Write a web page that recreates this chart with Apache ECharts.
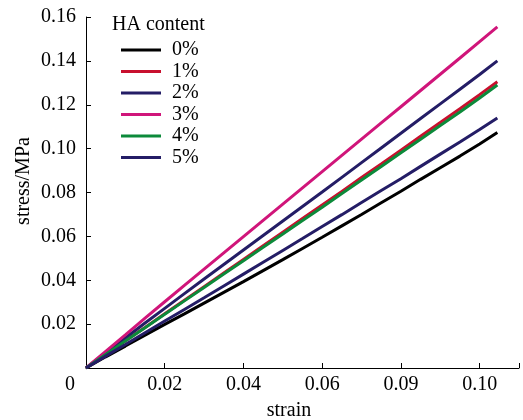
<!DOCTYPE html>
<html>
<head>
<meta charset="utf-8">
<script src="https://cdn.jsdelivr.net/npm/echarts@6/dist/echarts.min.js"></script>
<style>html,body{margin:0;padding:0;background:#fff;}#c{width:523px;height:420px;}</style>
</head>
<body>
<div id="c"></div>
<script>
const seriesNames = ['0%', '1%', '2%', '3%', '4%', '5%'];
const strain = [0,0.005,0.01,0.015,0.02,0.025,0.03,0.035,0.04,0.045,0.05,0.055,0.06,0.065,0.07,0.075,0.08,0.085,0.09,0.095,0.1,0.1045];
const ha0 = [0,0.0051,0.0100,0.0150,0.0199,0.0247,0.0296,0.0345,0.0394,0.0444,0.0494,0.0545,0.0596,0.0648,0.0700,0.0753,0.0806,0.0860,0.0913,0.0966,0.1021,0.1073];
const ha1 = [0,0.0062,0.0124,0.0185,0.0247,0.0309,0.0371,0.0433,0.0495,0.0557,0.0619,0.0681,0.0743,0.0805,0.0868,0.0930,0.0993,0.1056,0.1119,0.1182,0.1246,0.1305];
const ha2 = [0,0.0069,0.0137,0.0205,0.0272,0.0339,0.0406,0.0472,0.0538,0.0604,0.0670,0.0736,0.0802,0.0869,0.0936,0.1003,0.1070,0.1137,0.1204,0.1271,0.1338,0.1400];
const ha3 = [0,0.0076,0.0151,0.0227,0.0302,0.0377,0.0451,0.0525,0.0599,0.0673,0.0747,0.0821,0.0895,0.0969,0.1043,0.1117,0.1191,0.1265,0.1339,0.1413,0.1488,0.1555];
const ha4 = [0,0.0062,0.0123,0.0184,0.0245,0.0306,0.0367,0.0428,0.0489,0.0550,0.0611,0.0672,0.0733,0.0795,0.0857,0.0919,0.0981,0.1043,0.1105,0.1167,0.1231,0.1290];
const ha5 = [0,0.0054,0.0107,0.0161,0.0214,0.0267,0.0320,0.0374,0.0428,0.0482,0.0536,0.0590,0.0645,0.0699,0.0754,0.0809,0.0863,0.0919,0.0975,0.1030,0.1087,0.1140];
const xTickLabels = ['0', '0.02', '0.04', '0.06', '0.09', '0.10'];
const yTickLabels = ['', '0.02', '0.04', '0.06', '0.08', '0.10', '0.12', '0.14', '0.16'];
const colors = ['#000000', '#c8102e', '#241d66', '#d0157a', '#0c8a3a', '#241d66'];
const allData = [ha0, ha1, ha2, ha3, ha4, ha5];

const FONT = 'Liberation Serif';
const chart = echarts.init(document.getElementById('c'));
chart.setOption({
  animation: false,
  backgroundColor: '#fff',
  grid: { left: 86, right: 4, top: 17, bottom: 52, containLabel: false },
  legend: {
    orient: 'vertical', left: 116, top: 35, icon: 'rect',
    itemWidth: 40, itemHeight: 3, itemGap: 1.5,
    data: seriesNames,
    textStyle: { fontFamily: FONT, fontSize: 20, color: '#000', lineHeight: 20, padding: [0, 0, 0, 6] }
  },
  xAxis: {
    type: 'value', min: 0, max: 0.11, interval: 0.02,
    axisLine: { lineStyle: { color: '#000', width: 1 } },
    axisTick: { inside: true, length: 5, lineStyle: { color: '#000' } },
    splitLine: { show: false },
    axisLabel: {
      margin: 7, fontFamily: FONT, fontSize: 20, color: '#000',
      formatter: function (v) {
        const i = Math.round(v / 0.02);
        if (Math.abs(v - i * 0.02) > 1e-9 || i >= xTickLabels.length) return '';
        if (i === 0) return '{z|0}';
        return xTickLabels[i];
      },
      rich: { z: { fontFamily: FONT, fontSize: 20, color: '#000', padding: [0, 32, 0, 0] } }
    }
  },
  yAxis: {
    type: 'value', min: 0, max: 0.16, interval: 0.02,
    axisLine: { show: true, lineStyle: { color: '#000', width: 1 } },
    axisTick: { show: true, inside: true, length: 5, lineStyle: { color: '#000' } },
    splitLine: { show: false },
    axisLabel: {
      margin: 10, fontFamily: FONT, fontSize: 20, color: '#000',
      formatter: function (v) { return yTickLabels[Math.round(v / 0.02)] || ''; }
    }
  },
  graphic: [
    { type: 'text', left: 112, top: 15, style: { text: 'HA content', fontFamily: FONT, fontSize: 20, fill: '#000' } },
    { type: 'text', x: 289, y: 411, style: { text: 'strain', fontFamily: FONT, fontSize: 20, fill: '#000', align: 'center', verticalAlign: 'middle' } },
    { type: 'text', x: 24, y: 181, rotation: Math.PI / 2, style: { text: 'stress/MPa', fontFamily: FONT, fontSize: 20, fill: '#000', align: 'center', verticalAlign: 'middle' } }
  ],
  series: seriesNames.map(function (n, k) {
    return {
      name: n, type: 'line', showSymbol: false, symbol: 'none', smooth: false,
      color: colors[k],
      lineStyle: { color: colors[k], width: 3 },
      data: strain.map(function (s, i) { return [s, allData[k][i]]; })
    };
  })
});
</script>
</body>
</html>
